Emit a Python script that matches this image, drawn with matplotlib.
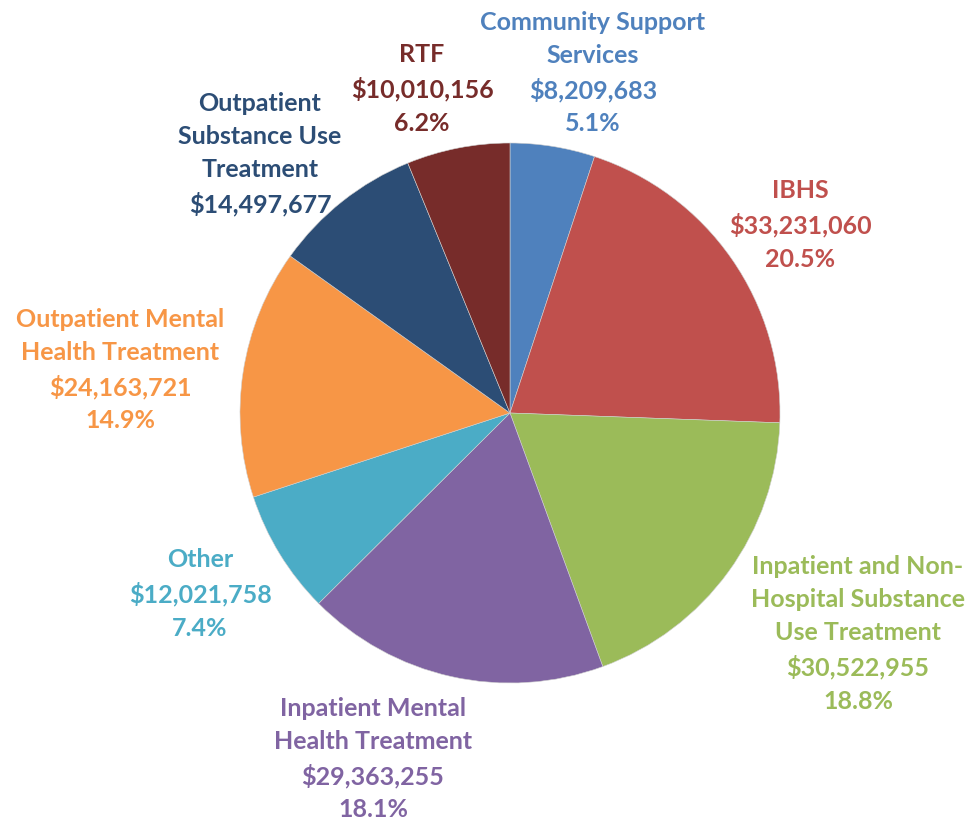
import matplotlib
matplotlib.use("Agg")
import matplotlib.pyplot as plt

names = ["Community Support\nServices", "IBHS",
         "Inpatient and Non-\nHospital Substance\nUse Treatment",
         "Inpatient Mental\nHealth Treatment", "Other",
         "Outpatient Mental\nHealth Treatment",
         "Outpatient\nSubstance Use\nTreatment", "RTF"]
values = [8209683, 33231060, 30522955, 29363255, 12021758, 24163721, 14497677, 10010156]
colors = ["#4F81BD", "#C0504D", "#9BBB59", "#8064A2", "#4BACC6", "#F79646", "#2C4D75", "#772C2A"]
# the reference label for Outpatient Substance Use Treatment is cut off before its percentage
show_pct = [True, True, True, True, True, True, False, True]

# label centre positions in pixels (layout)
label_px = [(593, 73), (800, 225), (858, 634), (373, 759), (200, 594),
            (120, 370), (260, 154), (422, 89)]

W, H = 973, 823
cx, cy, R = 510, 413, 270

fig = plt.figure(figsize=(W / 100, H / 100), dpi=100)
ax = fig.add_axes([0, 0, 1, 1])
wedges, _ = ax.pie(values, colors=colors, startangle=90, counterclock=False, radius=1,
                   wedgeprops=dict(linewidth=0.4, edgecolor='#d0d0d0'))
for w in wedges:
    w.set_zorder(2)
ax.set_xlim(-cx / R, (W - cx) / R)
ax.set_ylim(-(H - cy) / R, cy / R)
ax.set_aspect('auto')
ax.axis('off')

total = sum(values)
for name, v, c, sp, (px, py) in zip(names, values, colors, show_pct, label_px):
    txt = f"{name}\n${v:,}"
    if sp:
        txt += f"\n{100 * v / total:.1f}%"
    ax.text((px - cx) / R, (cy - py) / R, txt, color=c, ha='center', va='center',
            fontsize=18, fontweight='bold', family=['Lato', 'DejaVu Sans'],
            linespacing=1.53, zorder=1)

fig.savefig("out.png", dpi=100)
